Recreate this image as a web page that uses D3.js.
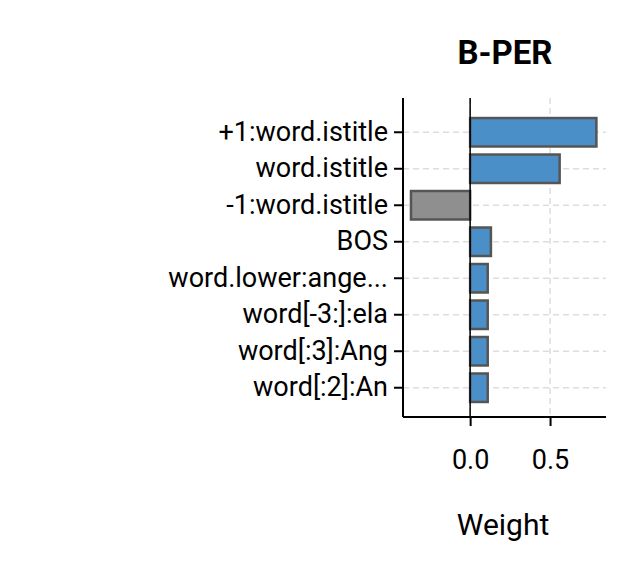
<!DOCTYPE html>
<html><head><meta charset="utf-8">
<script src="https://cdn.jsdelivr.net/npm/d3@7"></script>
<style>body{margin:0;background:#fff}</style>
</head><body>
<svg id="viz" width="634" height="574"></svg>
<script>
var features = ["+1:word.istitle", "word.istitle", "-1:word.istitle", "BOS",
                "word.lower:ange...", "word[-3:]:ela", "word[:3]:Ang", "word[:2]:An"];
var weights = [0.79, 0.56, -0.37, 0.13, 0.11, 0.11, 0.11, 0.11];
var xTicks = [0.0, 0.5];

var svg = d3.select("#viz"),
    font = "Roboto, 'Noto Sans', sans-serif",
    m = {left: 403, right: 606, top: 98, bottom: 417};

var x = d3.scaleLinear().domain([-0.42, 0.85]).range([m.left, m.right]);
var y = d3.scaleBand().domain(features).range([m.top + 12, m.bottom - 7]).padding(0.22);

// grid
svg.append("g").selectAll("line").data(xTicks).join("line")
  .attr("x1", d => x(d)).attr("x2", d => x(d)).attr("y1", m.top).attr("y2", m.bottom)
  .attr("stroke", "#ddd").attr("stroke-dasharray", "6,4").attr("stroke-width", 1.5);
svg.append("g").selectAll("line").data(features).join("line")
  .attr("x1", m.left).attr("x2", m.right)
  .attr("y1", d => y(d) + y.bandwidth() / 2).attr("y2", d => y(d) + y.bandwidth() / 2)
  .attr("stroke", "#ddd").attr("stroke-dasharray", "6,4").attr("stroke-width", 1.5);

// bars
svg.append("g").selectAll("rect").data(features).join("rect")
  .attr("x", (d, i) => x(Math.min(0, weights[i])))
  .attr("width", (d, i) => Math.abs(x(weights[i]) - x(0)))
  .attr("y", d => y(d)).attr("height", y.bandwidth())
  .attr("fill", (d, i) => weights[i] >= 0 ? "#4a8fc8" : "#8f8f8f")
  .attr("stroke", "#555").attr("stroke-width", 2.5);

// zero line
svg.append("line").attr("x1", x(0)).attr("x2", x(0)).attr("y1", m.top).attr("y2", m.bottom)
  .attr("stroke", "#000").attr("stroke-width", 1.5);

// axes
var yAxis = svg.append("g").attr("transform", "translate(" + m.left + ",0)")
  .call(d3.axisLeft(y).tickSize(9).tickPadding(6));
var xAxis = svg.append("g").attr("transform", "translate(0," + m.bottom + ")")
  .call(d3.axisBottom(x).tickValues(xTicks).tickFormat(d3.format(".1f")).tickSize(9).tickPadding(24));
[yAxis, xAxis].forEach(function(a) {
  a.select(".domain").attr("stroke-width", 2).attr("d", a === yAxis ?
    "M0," + m.top + "V" + m.bottom : "M" + m.left + ",0H" + m.right);
  a.selectAll(".tick line").attr("stroke-width", 2);
  a.selectAll("text").attr("font-family", font).attr("font-size", 27).attr("fill", "#000");
});

svg.append("text").attr("x", 505).attr("y", 64).attr("text-anchor", "middle")
  .attr("font-family", font).attr("font-weight", "bold").attr("font-size", 33).text("B-PER");
svg.append("text").attr("x", 503).attr("y", 535).attr("text-anchor", "middle")
  .attr("font-family", font).attr("font-size", 30).text("Weight");
</script>
</body></html>
